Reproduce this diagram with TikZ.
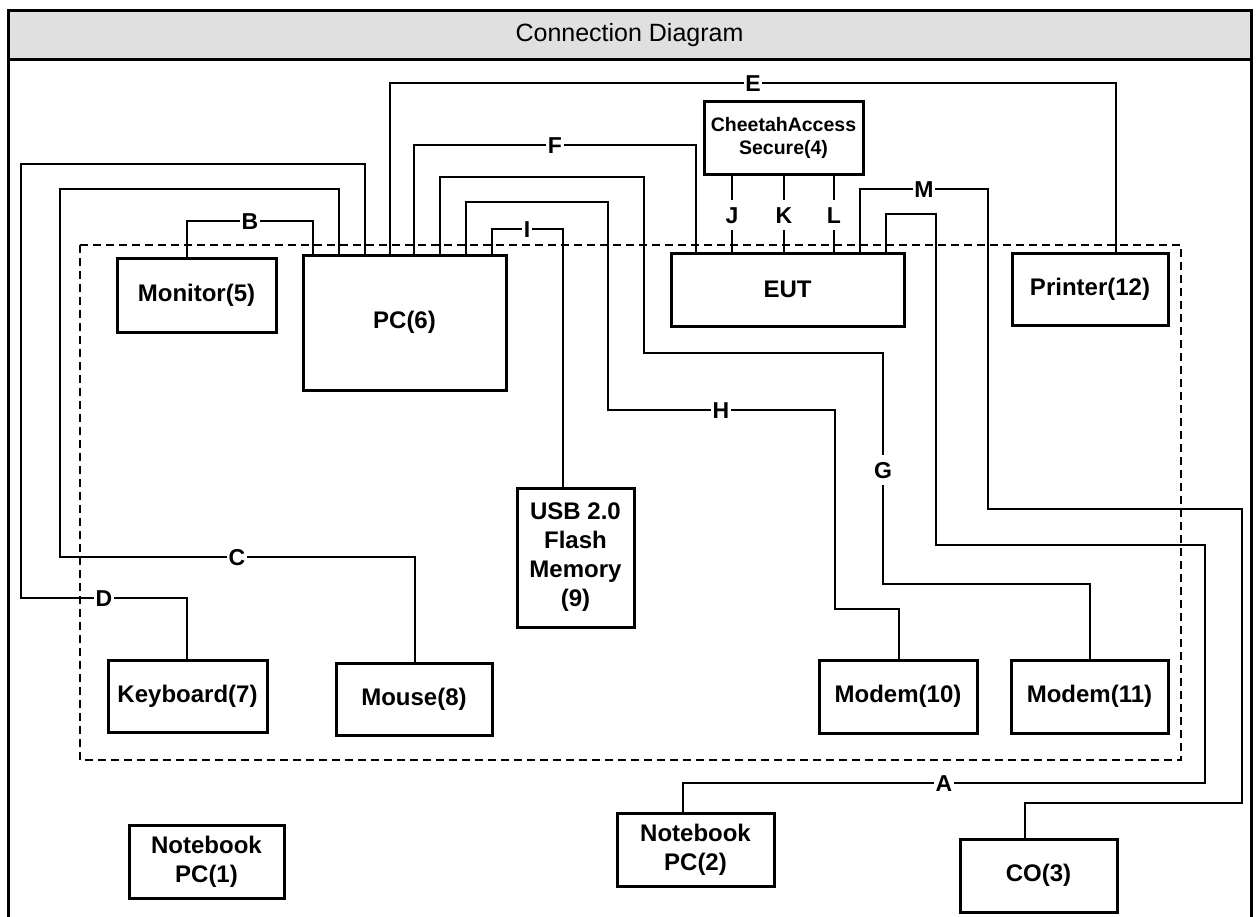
\documentclass[tikz,border=0pt]{standalone}
\usepackage{fontspec}
\setmainfont{Liberation Sans}
\definecolor{hdr}{HTML}{E0E0E0}
\begin{document}
\begin{tikzpicture}[x=1pt,y=-1pt,
  wire/.style={line width=1.7pt},
  box/.style={draw, line width=3pt, fill=white, font=\fontsize{24}{29}\selectfont\bfseries, align=center, inner sep=0pt},
  lab/.style={fill=white, inner xsep=1.5pt, inner ysep=6.5pt, text height=16.5pt, text depth=0pt, font=\fontsize{23}{26}\selectfont\bfseries}]
\useasboundingbox (0,0) rectangle (1256,916);
\clip (0,0) rectangle (1256,916);
% frame and header
\fill[hdr] (8,10) rectangle (1251,59);
\draw[line width=3pt] (8,940) -- (8,10) -- (1251,10) -- (1251,940);
\draw[line width=3pt] (8,59) -- (1251,59);
\node[font=\fontsize{25}{30}\selectfont] (title) at (629.5,35) {Connection Diagram};
% dashed enclosure
\draw[line width=1.2pt, dash pattern=on 8pt off 5pt] (80,245) rectangle (1181,760);
% boxes
\node[box, minimum width=159pt, minimum height=74pt] (mon) at (196.5,295) {Monitor(5)};
\node[box, minimum width=203pt, minimum height=135pt] (pc) at (404.5,322.5) {PC(6)};
\node[box, minimum width=233pt, minimum height=73pt] (eut) at (787.5,289.5) {EUT};
\node[box, font=\fontsize{19.5}{23}\selectfont\bfseries, minimum width=159pt, minimum height=73pt] (cheetah) at (783.5,137.5) {CheetahAccess\\Secure(4)};
\node[box, minimum width=156pt, minimum height=72pt] (prn) at (1090,289) {Printer(12)};
\node[box, minimum width=117pt, minimum height=139pt] (usb) at (575.5,557.5) {USB 2.0\\Flash\\Memory\\(9)};
\node[box, minimum width=159pt, minimum height=72pt] (kbd) at (187.5,696) {Keyboard(7)};
\node[box, minimum width=156pt, minimum height=72pt] (mouse) at (414,699) {Mouse(8)};
\node[box, minimum width=158pt, minimum height=73pt] (mod10) at (898,696.5) {Modem(10)};
\node[box, minimum width=157pt, minimum height=73pt] (mod11) at (1089.5,696.5) {Modem(11)};
\node[box, minimum width=155pt, minimum height=73pt] (nb1) at (206.5,861.5) {Notebook\\PC(1)};
\node[box, minimum width=157pt, minimum height=73pt] (nb2) at (695.5,849.5) {Notebook\\PC(2)};
\node[box, minimum width=157pt, minimum height=73pt] (co) at (1038.5,875.5) {CO(3)};
% connectors
\begin{scope}[on background layer/.style={}]
\draw[wire] (313,0 |- pc.north) |- (187,221) -- (187,0 |- mon.north);
\draw[wire] (339,0 |- pc.north) |- (60,189) |- (415,557) -- (415,0 |- mouse.north);
\draw[wire] (365,0 |- pc.north) |- (21,164) |- (187,598) -- (187,0 |- kbd.north);
\draw[wire] (390,0 |- pc.north) |- (1116,83) -- (1116,0 |- prn.north);
\draw[wire] (414,0 |- pc.north) |- (696,145) -- (696,0 |- eut.north);
\draw[wire] (440,0 |- pc.north) |- (644,177) |- (883,353) |- (1090,584) -- (1090,0 |- mod11.north);
\draw[wire] (466,0 |- pc.north) |- (608,202) |- (835,410) |- (899,609) -- (899,0 |- mod10.north);
\draw[wire] (492,0 |- pc.north) |- (563,229) -- (563,0 |- usb.north);
\draw[wire] (732,0 |- cheetah.south) -- (732,0 |- eut.north);
\draw[wire] (784,0 |- cheetah.south) -- (784,0 |- eut.north);
\draw[wire] (834,0 |- cheetah.south) -- (834,0 |- eut.north);
\draw[wire] (860,0 |- eut.north) |- (988,189) |- (1242,509) |- (1025,803) -- (1025,0 |- co.north);
\draw[wire] (886,0 |- eut.north) |- (936,214) |- (1205,545) |- (683,783) -- (683,0 |- nb2.north);
\end{scope}
% labels
\node[lab] (lB) at (250,221) {B};
\node[lab] (lC) at (237,557) {C};
\node[lab] (lD) at (104,598) {D};
\node[lab] (lE) at (753,83) {E};
\node[lab] (lF) at (555,145) {F};
\node[lab] (lG) at (883,470) {G};
\node[lab] (lH) at (721,410) {H};
\node[lab] (lI) at (527,229) {I};
\node[lab] (lJ) at (732,215) {J};
\node[lab] (lK) at (784,215) {K};
\node[lab] (lL) at (834,215) {L};
\node[lab] (lM) at (924,189) {M};
\node[lab] (lA) at (944,783) {A};
\end{tikzpicture}
\end{document}
